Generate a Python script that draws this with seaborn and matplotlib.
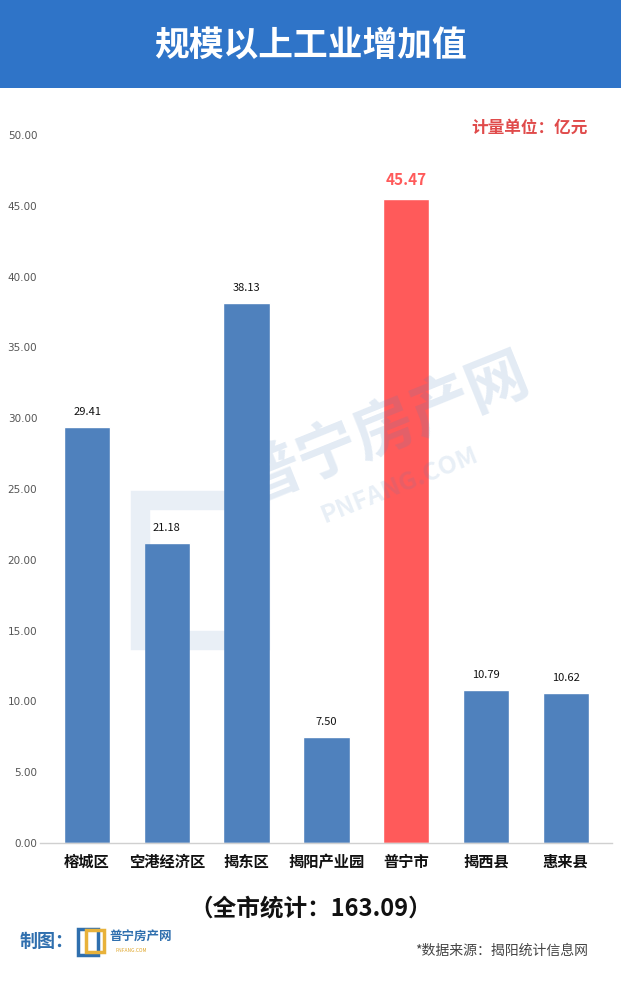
import matplotlib
matplotlib.use("Agg")
import matplotlib.pyplot as plt
import seaborn as sns
import pandas as pd
from matplotlib.patches import Rectangle

# data
regions = ['榕城区', '空港经济区', '揭东区', '揭阳产业园', '普宁市', '揭西县', '惠来县']
values = [29.41, 21.18, 38.13, 7.50, 45.47, 10.79, 10.62]
highlight = '普宁市'
total = 163.09
yticks = [0, 5, 10, 15, 20, 25, 30, 35, 40, 45, 50]

df = pd.DataFrame({'region': regions, 'value': values})

sns.set_theme(style='white')
plt.rcParams['font.family'] = ['Noto Sans CJK SC', 'DejaVu Sans']

blue = '#4f81bd'
red = '#ff5a5a'
palette = {r: (red if r == highlight else blue) for r in regions}

fig = plt.figure(figsize=(6.21, 9.83), dpi=100)
ax = fig.add_axes([0.0644, 0.1424, 0.9211, 0.7203])

sns.barplot(data=df, x='region', y='value', hue='region', palette=palette,
            width=0.58, legend=False, ax=ax, saturation=1)

ax.set_ylim(0, 50)
ax.set_xlim(-0.59, 6.58)
ax.set_yticks(yticks)
ax.set_yticklabels([f'{t:.2f}' for t in yticks], fontsize=7.5, color='#555555',
                   family='DejaVu Sans')
ax.tick_params(axis='y', length=0, pad=2)
ax.tick_params(axis='x', length=0, pad=8)
for lbl in ax.get_xticklabels():
    lbl.set_fontsize(11)
    lbl.set_fontweight('bold')
    lbl.set_color('#111111')
ax.set_xlabel('')
ax.set_ylabel('')
for s in ['top', 'right', 'left']:
    ax.spines[s].set_visible(False)
ax.spines['bottom'].set_color('#d0d0d0')
ax.spines['bottom'].set_linewidth(1)

# value labels
for i, (r, v) in enumerate(zip(regions, values)):
    if r == highlight:
        ax.text(i, v + 0.8, f'{v:.2f}', ha='center', va='bottom', fontsize=11,
                fontweight='bold', color=red)
    else:
        ax.text(i, v + 0.7, f'{v:.2f}', ha='center', va='bottom', fontsize=8,
                color='#111111')

# watermark
fig.text(385 / 621, 1 - 430 / 983, '普宁房产网', fontsize=44, fontweight='bold',
         color='#4f81bd', alpha=0.16, rotation=22, ha='center', va='center')
fig.text(400 / 621, 1 - 485 / 983, 'PNFANG.COM', fontsize=18, fontweight='bold',
         color='#4f81bd', alpha=0.13, rotation=22, ha='center', va='center')
fig.patches.append(Rectangle((140 / 621, 1 - 640 / 983), 120 / 621, 140 / 983,
                             transform=fig.transFigure, facecolor='none',
                             edgecolor='#4f81bd', linewidth=14, alpha=0.12))

# header band
fig.patches.append(Rectangle((0, 1 - 88 / 983), 1, 88 / 983, transform=fig.transFigure,
                             facecolor='#2f74c8', edgecolor='none', zorder=0))
fig.text(0.5, 1 - 45 / 983, '规模以上工业增加值', fontsize=25, fontweight='bold',
         color='white', ha='center', va='center')

# unit label
fig.text(588 / 621, 1 - 128 / 983, '计量单位：亿元', fontsize=12, fontweight='bold',
         color='#e04b4b', ha='right', va='center')

# footer
fig.text(0.5, 1 - 908 / 983, f'（全市统计：{total:.2f}）', fontsize=17, fontweight='bold',
         color='#111111', ha='center', va='center')
fig.text(20 / 621, 1 - 941 / 983, '制图：', fontsize=13, fontweight='bold',
         color='#2f6fae', ha='left', va='center')
# small logo
fig.patches.append(Rectangle((78 / 621, 1 - 955 / 983), 20 / 621, 26 / 983,
                             transform=fig.transFigure, facecolor='none',
                             edgecolor='#2f6fae', linewidth=2.5))
fig.patches.append(Rectangle((86 / 621, 1 - 952 / 983), 18 / 621, 22 / 983,
                             transform=fig.transFigure, facecolor='none',
                             edgecolor='#e8b23a', linewidth=2.5))
fig.text(109 / 621, 1 - 936 / 983, '普宁房产网', fontsize=9, fontweight='bold',
         color='#2f6fae', ha='left', va='center')
fig.text(116 / 621, 1 - 950 / 983, 'PNFANG.COM', fontsize=3.5,
         color='#e0a82e', ha='left', va='center')
fig.text(588 / 621, 1 - 951 / 983, '*数据来源：揭阳统计信息网', fontsize=10,
         color='#444444', ha='right', va='center')

fig.savefig('out.png', dpi=100)
